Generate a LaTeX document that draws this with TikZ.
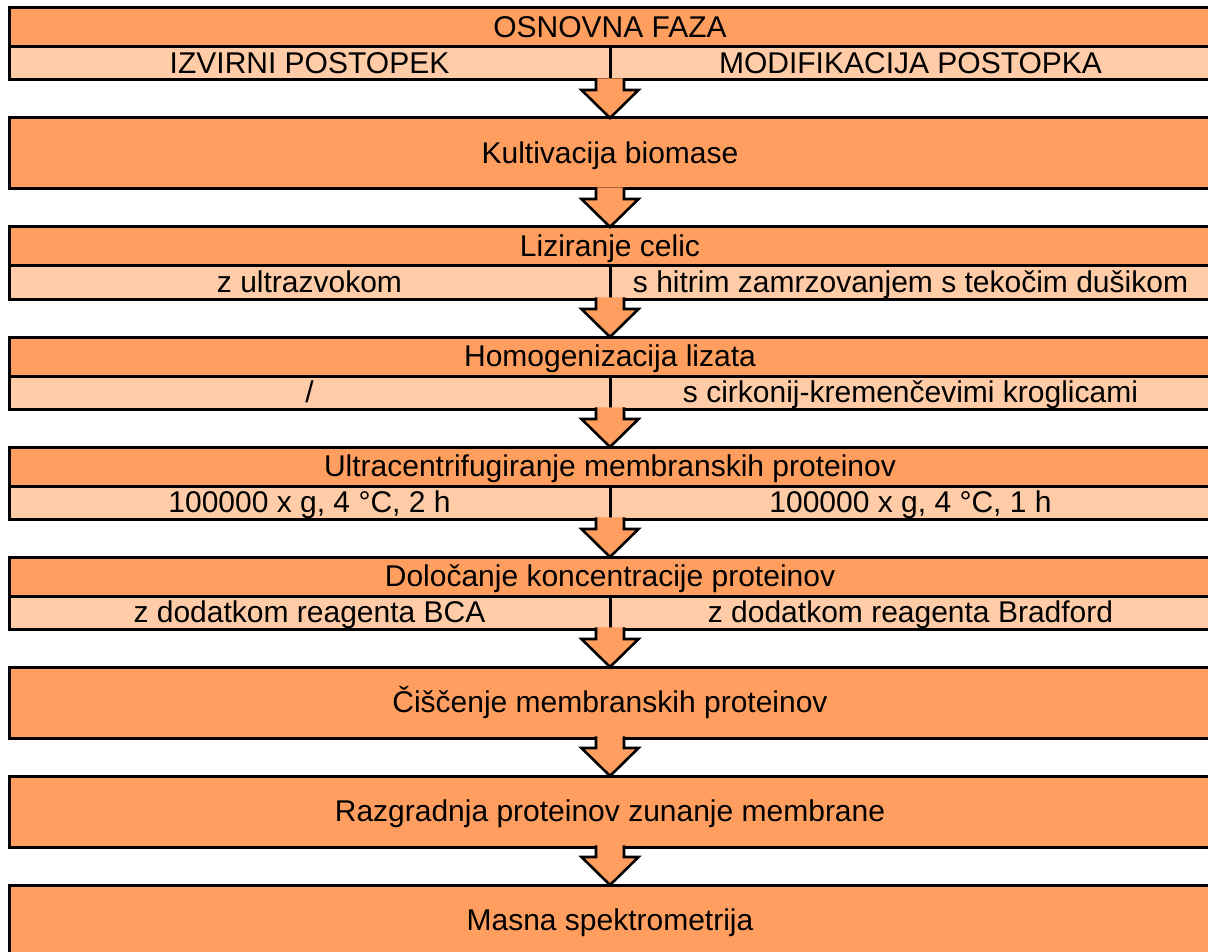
\documentclass[tikz,border=0pt]{standalone}
\usepackage{fontspec}
\setmainfont{Liberation Sans}
\usepackage{xcolor}
\usepackage{tikz}
\usetikzlibrary{positioning,calc}

\definecolor{stepfill}{RGB}{255,158,94}
\definecolor{subfill}{RGB}{255,204,167}

\begin{document}
\begin{tikzpicture}[
  x=1pt, y=1pt,
  node distance=38pt,
  every node/.style={font=\fontsize{30}{35}\selectfont, text height=19.5pt, text depth=0pt, inner sep=0pt, outer sep=0pt},
  mainbox/.style={rectangle, draw, line width=3pt, fill=stepfill, minimum width=1202pt, minimum height=71pt},
  headbox/.style={rectangle, draw, line width=3pt, fill=stepfill, minimum width=1202pt, minimum height=39pt},
  subbox/.style={rectangle, draw, line width=3pt, fill=subfill, minimum width=601pt, minimum height=33pt},
  blockarrow/.style={fill=stepfill, line width=2.6pt, line join=miter,
    to path={($(\tikztostart)+(-14,1.7)$) -- ($(\tikztostart)+(-14,-10)$) -- ($(\tikztostart)+(-28.5,-10)$)
      -- (\tikztotarget) -- ($(\tikztostart)+(28.5,-10)$) -- ($(\tikztostart)+(14,-10)$) -- ($(\tikztostart)+(14,1.7)$)}}
]
\useasboundingbox (0,0) rectangle (1208,-952);

\node[headbox, anchor=north] (osnovna) at (610,-8) {OSNOVNA FAZA};
\node[subbox, below right=0pt and 0pt of osnovna.south west] (osnovnaL) {IZVIRNI POSTOPEK};
\node[subbox, right=0pt of osnovnaL] (osnovnaR) {MODIFIKACIJA POSTOPKA};

\node[mainbox, below=of osnovnaL.south east] (kult) {Kultivacija biomase};

\node[headbox, below=of kult] (liz) {Liziranje celic};
\node[subbox, below right=0pt and 0pt of liz.south west] (lizL) {z ultrazvokom};
\node[subbox, right=0pt of lizL] (lizR) {s hitrim zamrzovanjem s tekočim dušikom};

\node[headbox, below=of lizL.south east] (homog) {Homogenizacija lizata};
\node[subbox, below right=0pt and 0pt of homog.south west] (homogL) {/};
\node[subbox, right=0pt of homogL] (homogR) {s cirkonij-kremenčevimi kroglicami};

\node[headbox, below=of homogL.south east] (ultra) {Ultracentrifugiranje membranskih proteinov};
\node[subbox, below right=0pt and 0pt of ultra.south west] (ultraL) {100000 x g, 4 °C, 2 h};
\node[subbox, right=0pt of ultraL] (ultraR) {100000 x g, 4 °C, 1 h};

\node[headbox, below=of ultraL.south east] (dolocanje) {Določanje koncentracije proteinov};
\node[subbox, below right=0pt and 0pt of dolocanje.south west] (dolocanjeL) {z dodatkom reagenta BCA};
\node[subbox, right=0pt of dolocanjeL] (dolocanjeR) {z dodatkom reagenta Bradford};

\node[mainbox, below=of dolocanjeL.south east] (ciscenje) {Čiščenje membranskih proteinov};
\node[mainbox, below=of ciscenje] (razgradnja) {Razgradnja proteinov zunanje membrane};
\node[mainbox, below=of razgradnja] (masna) {Masna spektrometrija};

% block arrows between the stages
\draw[blockarrow] (osnovnaL.south east) to (kult.north);
\draw[blockarrow] (kult.south) to (liz.north);
\draw[blockarrow] (lizL.south east) to (homog.north);
\draw[blockarrow] (homogL.south east) to (ultra.north);
\draw[blockarrow] (ultraL.south east) to (dolocanje.north);
\draw[blockarrow] (dolocanjeL.south east) to (ciscenje.north);
\draw[blockarrow] (ciscenje.south) to (razgradnja.north);
\draw[blockarrow] (razgradnja.south) to (masna.north);

\end{tikzpicture}
\end{document}
